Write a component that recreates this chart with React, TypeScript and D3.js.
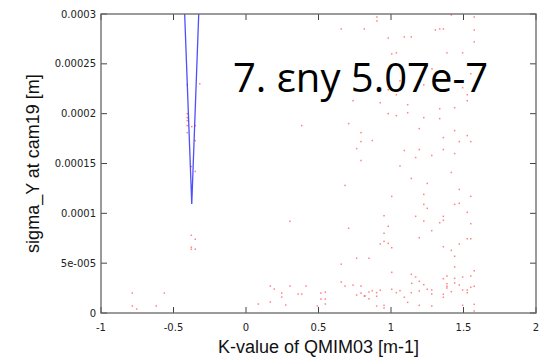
import React from "react";
import * as d3 from "d3";

const xTicks = [-1, -0.5, 0, 0.5, 1, 1.5, 2];
const xTickLabels = ["-1", "-0.5", "0", "0.5", "1", "1.5", "2"];
const yTicks = [0, 5e-5, 1e-4, 1.5e-4, 2e-4, 2.5e-4, 3e-4];
const yTickLabels = ["0", "5e-005", "0.0001", "0.00015", "0.0002", "0.00025", "0.0003"];

// fitted curve (blue)
const curveK = [-0.423, -0.374, -0.326];
const curveSigma = [300e-6, 109.4e-6, 300e-6];

// measured points (red)
const pointK = [
  -0.405, -0.319, -0.405, -0.405, -0.405, -0.405, -0.405, -0.374, -0.35, -0.35,
  -0.377, -0.35, -0.377, -0.35, -0.377, -0.377, -0.35, -0.784, -0.563, -0.784, -0.754, -0.619,
  0.657, 0.816, 0.738, 0.384, 0.708, 0.793, 0.793, 0.763, 0.793,
  0.903, 0.903, 1.416, 1.574, 1.306, 1.336, 1.361, 1.574, 0.981, 1.092, 1.14, 1.574,
  1.005, 1.037, 1.386, 1.494, 1.25, 1.283, 1.55, 1.062, 1.226, 1.471, 1.494, 0.981,
  1.037, 1.526, 1.526, 0.926, 1.115, 1.439, 1.336, 0.981, 1.037, 1.115, 1.226, 1.336,
  1.195, 1.439, 1.526, 0.871, 1.361, 1.471, 1.55, 1.092, 1.195, 1.361, 1.439, 1.281, 1.17,
  0.683, 0.303, 0.708, 0.763, 0.657, 0.657, 0.738, 0.683, 0.793, 0.168, 0.195, 0.303,
  0.414, 0.246, 0.359, 0.384, 0.517, 0.547, 0.763, 0.793, 0.816, 0.246, 0.517, 0.547,
  0.168, 0.085, 0.274, 0.547, 0.492,
  1.062, 1.416, 1.14, 1.25, 1.471, 1.005, 1.226, 1.55, 1.439, 1.471, 1.226, 1.25, 1.526,
  0.952, 1.17, 1.361, 1.361, 1.336, 1.55, 0.981, 1.226, 1.281, 0.952, 1.195, 1.526, 1.55,
  0.952, 0.981, 0.926, 1.471, 1.361, 1.005, 1.416, 1.439, 0.848, 1.439, 1.005, 1.574,
  1.14, 1.386, 1.55, 1.17, 1.361, 1.439, 1.195, 1.494, 1.439, 1.386, 1.471, 1.386, 1.55,
  1.574, 1.386, 1.226, 1.25, 1.005, 1.143, 1.281, 1.281, 1.494, 1.526, 1.526, 1.416,
  0.871, 0.848, 0.901, 0.926, 1.037, 1.062, 1.14, 1.195, 0.848, 0.901, 1.361, 1.361,
  1.092, 1.115, 0.952, 0.952, 0.901, 1.195, 1.281, 1.494, 1.574, 1.574, 0.821,
];
const pointSigma = [
  229e-6, 230e-6, 200e-6, 196e-6, 193e-6, 188e-6, 181e-6, 187e-6, 188e-6, 173e-6,
  147e-6, 142e-6, 78e-6, 74e-6, 66e-6, 64e-6, 64e-6, 20e-6, 20e-6, 7e-6, 4e-6, 7e-6,
  285e-6, 285e-6, 213e-6, 188e-6, 190e-6, 181e-6, 172e-6, 165e-6, 153e-6,
  297e-6, 293e-6, 299e-6, 297e-6, 284e-6, 285e-6, 285e-6, 284e-6, 276e-6, 277e-6, 277e-6, 272e-6,
  260e-6, 261e-6, 261e-6, 261e-6, 248e-6, 245e-6, 240e-6, 233e-6, 229e-6, 233e-6, 226e-6, 224e-6,
  219e-6, 219e-6, 213e-6, 211e-6, 209e-6, 206e-6, 205e-6, 200e-6, 198e-6, 201e-6, 196e-6, 195e-6,
  185e-6, 183e-6, 178e-6, 173e-6, 176e-6, 172e-6, 172e-6, 163e-6, 164e-6, 164e-6, 160e-6, 158e-6, 156e-6,
  128e-6, 92e-6, 85e-6, 55e-6, 49e-6, 31e-6, 28e-6, 27e-6, 27e-6, 27e-6, 24e-6, 27e-6,
  27e-6, 20e-6, 19e-6, 19e-6, 20e-6, 21e-6, 18e-6, 20e-6, 17e-6, 16e-6, 14e-6, 14e-6,
  11e-6, 9e-6, 8e-6, 9e-6, 7e-6,
  147.5e-6, 141e-6, 135e-6, 130e-6, 124e-6, 117e-6, 119e-6, 117e-6, 109e-6, 110e-6, 109e-6, 105e-6, 101e-6,
  97.6e-6, 97e-6, 97e-6, 93e-6, 90.6e-6, 89.6e-6, 87e-6, 92.3e-6, 82.6e-6, 80e-6, 75.5e-6, 74.5e-6, 74.5e-6,
  71.9e-6, 69.9e-6, 69.2e-6, 69.2e-6, 66.5e-6, 65.5e-6, 62.9e-6, 56.9e-6, 54.9e-6, 46.2e-6, 40.8e-6, 42.4e-6,
  38.8e-6, 37.1e-6, 37.1e-6, 36.1e-6, 34.4e-6, 34.8e-6, 31.8e-6, 36.1e-6, 30.1e-6, 29.4e-6, 28.1e-6, 26.8e-6, 25.8e-6,
  26.8e-6, 25.1e-6, 28.4e-6, 23.8e-6, 23.8e-6, 29.8e-6, 23.1e-6, 19.1e-6, 23.1e-6, 23.1e-6, 20.4e-6, 21.4e-6,
  22.4e-6, 21.1e-6, 20.4e-6, 22.8e-6, 20.4e-6, 22.4e-6, 20.4e-6, 22.1e-6, 14.3e-6, 16.8e-6, 18.8e-6, 15.8e-6,
  15.8e-6, 10.7e-6, 7.7e-6, 5e-6, 7e-6, 7.7e-6, 7e-6, 7.7e-6, 8.7e-6, 2e-6, 17.1e-6,
];

const annotation = "7. εny 5.07e-7";
const xLabel = "K-value of QMIM03 [m-1]";
const yLabel = "sigma_Y at cam19 [m]";

const W = 550;
const H = 357;
const L = 101;
const R = 536;
const T = 14;
const B = 313;

export default function App() {
  const x = d3.scaleLinear().domain([-1, 2]).range([L, R]);
  const y = d3.scaleLinear().domain([0, 3e-4]).range([B, T]);
  const line = d3
    .line<number>()
    .x((_, i) => x(curveK[i]))
    .y((d) => y(d));
  const n = Math.min(pointK.length, pointSigma.length);
  const pts = d3.range(n);
  const tickLen = 6;
  const tickFont = "'DejaVu Sans', Verdana, sans-serif";
  const labelFont = "'Liberation Sans', Arial, sans-serif";

  return (
    <svg
      width={W}
      height={H}
      style={{ position: "fixed", left: 0, top: 0, background: "#fff" }}
    >
      <defs>
        <clipPath id="plotClip">
          <rect x={L} y={T} width={R - L} height={B - T} />
        </clipPath>
      </defs>
      <rect x={0} y={0} width={W} height={H} fill="#fff" />

      {/* points */}
      <g clipPath="url(#plotClip)">
        {pts.map((i) => (
          <rect
            key={i}
            x={x(pointK[i]) - 0.75}
            y={y(pointSigma[i]) - 0.75}
            width={1.5}
            height={1.5}
            fill="#ff3030"
            opacity={0.6}
          />
        ))}
        <path
          d={line(curveSigma) || ""}
          fill="none"
          stroke="#3030ff"
          strokeWidth={1.3}
          strokeOpacity={0.85}
        />
      </g>

      {/* ticks */}
      <g stroke="#444" strokeWidth={1}>
        {xTicks.map((t) => (
          <g key={"xt" + t}>
            <line x1={x(t)} x2={x(t)} y1={B} y2={B - tickLen} />
            <line x1={x(t)} x2={x(t)} y1={T} y2={T + tickLen} />
          </g>
        ))}
        {yTicks.map((t) => (
          <g key={"yt" + t}>
            <line x1={L} x2={L + tickLen} y1={y(t)} y2={y(t)} />
            <line x1={R} x2={R - tickLen} y1={y(t)} y2={y(t)} />
          </g>
        ))}
      </g>

      {/* frame */}
      <rect
        x={L}
        y={T}
        width={R - L}
        height={B - T}
        fill="none"
        stroke="#666"
        strokeWidth={1.3}
      />

      {/* tick labels */}
      <g fontFamily={tickFont} fontSize={10} fill="#222">
        {xTicks.map((t, i) => (
          <text key={"xl" + t} x={x(t)} y={331} textAnchor="middle">
            {xTickLabels[i]}
          </text>
        ))}
        {yTicks.map((t, i) => (
          <text key={"yl" + t} x={96} y={y(t) + 3.5} textAnchor="end">
            {yTickLabels[i]}
          </text>
        ))}
      </g>

      {/* axis titles */}
      <text
        x={(L + R) / 2}
        y={353}
        textAnchor="middle"
        fontFamily={labelFont}
        fontSize={18}
        fill="#111"
      >
        {xLabel}
      </text>
      <text
        transform={`translate(39, ${(T + B) / 2}) rotate(-90)`}
        textAnchor="middle"
        fontFamily={labelFont}
        fontSize={18}
        fill="#111"
      >
        {yLabel}
      </text>

      {/* annotation */}
      <text
        x={233}
        y={92}
        fontFamily="'Open Sans', 'Noto Sans', sans-serif"
        fontSize={40}
        fill="#000"
      >
        {annotation}
      </text>
    </svg>
  );
}
